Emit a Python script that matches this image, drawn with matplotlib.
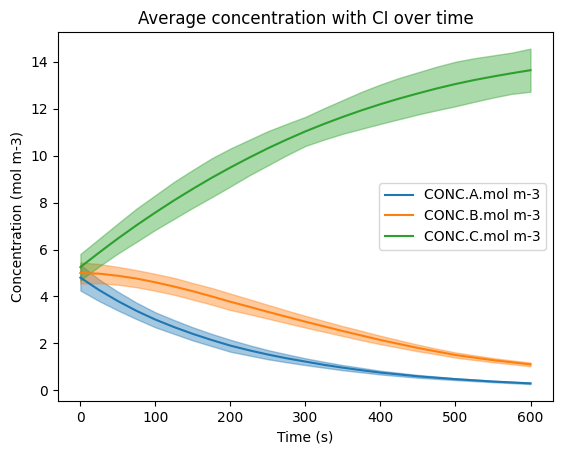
import matplotlib
matplotlib.use("Agg")
import matplotlib.pyplot as plt

time_s = [0, 25, 50, 75, 100, 125, 150, 175, 200, 225, 250, 275, 300,
          325, 350, 375, 400, 425, 450, 475, 500, 525, 550, 575, 600]

a_mean = [4.80, 4.27, 3.80, 3.38, 3.01, 2.69, 2.40, 2.14, 1.90, 1.70, 1.52, 1.36, 1.22,
          1.08, 0.96, 0.85, 0.75, 0.67, 0.59, 0.53, 0.47, 0.42, 0.37, 0.33, 0.29]
a_low = [4.25, 3.80, 3.40, 3.03, 2.68, 2.40, 2.12, 1.88, 1.64, 1.48, 1.32, 1.19, 1.07,
         0.96, 0.85, 0.76, 0.67, 0.60, 0.53, 0.48, 0.43, 0.385, 0.34, 0.30, 0.26]
a_high = [5.35, 4.72, 4.20, 3.73, 3.32, 2.99, 2.68, 2.40, 2.15, 1.92, 1.71, 1.53, 1.36,
          1.21, 1.07, 0.95, 0.83, 0.74, 0.65, 0.58, 0.51, 0.455, 0.40, 0.36, 0.32]

b_mean = [5.00, 4.97, 4.88, 4.76, 4.60, 4.42, 4.22, 4.00, 3.77, 3.56, 3.34, 3.13, 2.92,
          2.72, 2.52, 2.33, 2.14, 1.97, 1.80, 1.65, 1.50, 1.39, 1.28, 1.19, 1.10]
b_low = [4.55, 4.56, 4.50, 4.39, 4.24, 4.07, 3.86, 3.65, 3.42, 3.24, 3.05, 2.86, 2.67,
         2.49, 2.31, 2.13, 1.96, 1.81, 1.66, 1.53, 1.39, 1.29, 1.19, 1.11, 1.02]
b_high = [5.45, 5.38, 5.26, 5.12, 4.96, 4.79, 4.57, 4.36, 4.12, 3.88, 3.64, 3.40, 3.17,
          2.95, 2.73, 2.53, 2.32, 2.13, 1.94, 1.77, 1.61, 1.49, 1.37, 1.27, 1.18]

c_mean = [5.25, 5.87, 6.47, 7.04, 7.58, 8.10, 8.59, 9.06, 9.50, 9.92, 10.32, 10.69, 11.04,
          11.36, 11.66, 11.94, 12.20, 12.44, 12.66, 12.87, 13.06, 13.23, 13.38, 13.52, 13.65]
c_low = [4.69, 5.28, 5.83, 6.33, 6.84, 7.31, 7.78, 8.23, 8.69, 9.16, 9.59, 10.02, 10.42,
         10.69, 10.94, 11.15, 11.36, 11.56, 11.76, 11.94, 12.11, 12.30, 12.48, 12.64, 12.73]
c_high = [5.81, 6.46, 7.11, 7.75, 8.32, 8.89, 9.40, 9.89, 10.31, 10.68, 11.05, 11.36, 11.66,
          12.03, 12.38, 12.73, 13.04, 13.32, 13.56, 13.80, 14.01, 14.16, 14.28, 14.40, 14.57]

labels = ["CONC.A.mol m-3", "CONC.B.mol m-3", "CONC.C.mol m-3"]
colors = ["#1f77b4", "#ff7f0e", "#2ca02c"]

fig = plt.figure(figsize=(5.62, 4.55), dpi=100)
ax = fig.add_subplot(111)
fig.subplots_adjust(left=0.103, right=0.984, top=0.930, bottom=0.119)

series = [(a_mean, a_low, a_high), (b_mean, b_low, b_high), (c_mean, c_low, c_high)]
for (m, lo, hi), lab, col in zip(series, labels, colors):
    ax.plot(time_s, m, color=col, label=lab)
    ax.fill_between(time_s, lo, hi, color=col, alpha=0.4)

ax.set_title("Average concentration with CI over time")
ax.set_xlabel("Time (s)")
ax.set_ylabel("Concentration (mol m-3)")
ax.legend(loc="center right")

fig.savefig("out.png", dpi=100)
